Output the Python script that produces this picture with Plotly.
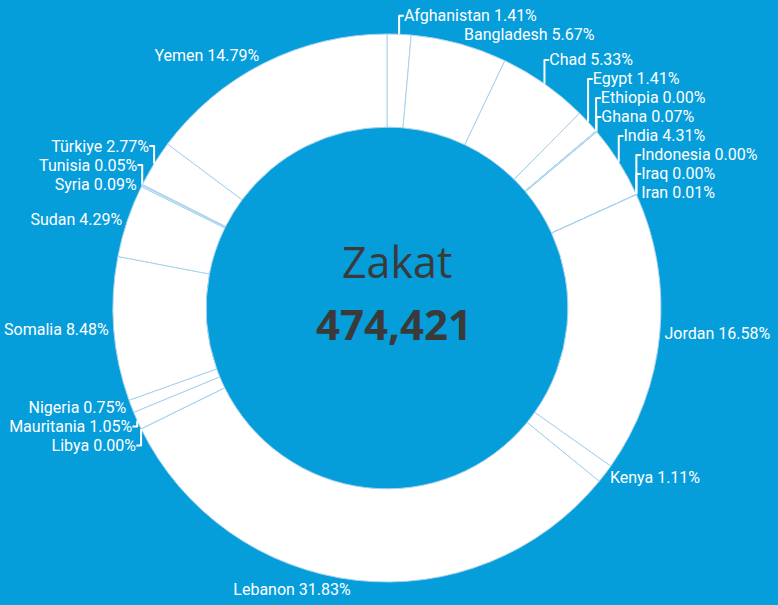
import plotly.graph_objects as go

countries = ["Afghanistan", "Bangladesh", "Chad", "Egypt", "Ethiopia", "Ghana", "India",
             "Indonesia", "Iraq", "Iran", "Jordan", "Kenya", "Lebanon", "Libya",
             "Mauritania", "Nigeria", "Somalia", "Sudan", "Syria", "Tunisia", "Türkiye", "Yemen"]
amounts = [6689, 26900, 25287, 6689, 10, 332, 20447, 10, 10, 47, 78659, 5266, 151030, 10,
           4981, 3565, 40231, 20353, 427, 240, 13141, 70167]
center_title = "Zakat"
center_total = "474,421"

BG = "#069ddb"
TXT = "#3a3a3a"

fig = go.Figure(go.Pie(
    labels=countries,
    values=amounts,
    sort=False,
    direction="clockwise",
    rotation=0,
    hole=0.66,
    automargin=False,
    marker=dict(colors=["#ffffff"] * len(countries), line=dict(color="#a9d3ee", width=1)),
    texttemplate="%{label} %{percent:.2%}",
    textposition="outside",
    textfont=dict(family="Roboto", size=16, color="#ffffff"),
    showlegend=False,
    hoverinfo="label+value+percent",
))

fig.update_layout(
    width=778, height=605,
    paper_bgcolor=BG, plot_bgcolor=BG,
    margin=dict(l=0, r=4, t=34, b=23, autoexpand=False),
    annotations=[
        dict(text=center_title, x=0.513, y=0.584, xref="paper", yref="paper", showarrow=False,
             font=dict(family="Open Sans", size=43, color=TXT)),
        dict(text="<b>" + center_total + "</b>", x=0.509, y=0.471, xref="paper", yref="paper",
             showarrow=False, font=dict(family="Open Sans", size=42, color=TXT)),
    ],
)

fig.write_html("out.html", config={"displayModeBar": False},
               post_script="document.body.style.margin='0';document.body.style.background='%s';" % BG)
